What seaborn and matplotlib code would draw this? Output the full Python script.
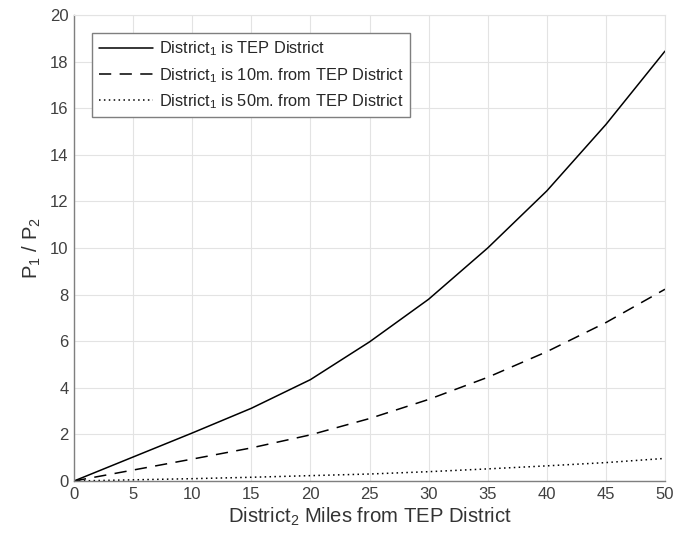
import numpy as np
import pandas as pd
import matplotlib
matplotlib.use("Agg")
import matplotlib.pyplot as plt
import seaborn as sns

# Data
miles = [0, 5, 10, 15, 20, 25, 30, 35, 40, 45, 50]
tep_district = [0, 1.03, 2.06, 3.12, 4.35, 5.97, 7.8, 10.0, 12.45, 15.3, 18.45]
ten_miles = [0, 0.47, 0.94, 1.42, 1.98, 2.68, 3.5, 4.45, 5.55, 6.8, 8.23]
fifty_miles = [0, 0.05, 0.1, 0.16, 0.23, 0.3, 0.4, 0.52, 0.65, 0.79, 0.97]

labels = ["District$_1$ is TEP District",
          "District$_1$ is 10m. from TEP District",
          "District$_1$ is 50m. from TEP District"]
styles = ["-", (0, (8, 5.5)), (0, (1, 2.2))]

sns.set_style("white")
plt.rcParams['font.family'] = ['Liberation Sans', 'DejaVu Sans']
plt.rcParams['mathtext.default'] = 'regular'

fig = plt.figure(figsize=(6.75, 5.42), dpi=100)
ax = fig.add_axes([74/675, 61/542, 591/675, 466/542])

series = [tep_district, ten_miles, fifty_miles]
for vals, lab, ls in zip(series, labels, styles):
    df = pd.DataFrame({"x": miles, "y": vals})
    sns.lineplot(data=df, x="x", y="y", ax=ax, color="black", linewidth=1.1,
                 linestyle=ls, label=lab)

ax.set_xlim(0, 50)
ax.set_ylim(0, 20)
ax.set_xticks(np.arange(0, 51, 5))
ax.set_yticks(np.arange(0, 21, 2))
ax.grid(True, color="#e3e3e3", linewidth=0.8)
ax.set_axisbelow(True)

for side in ["top", "right"]:
    ax.spines[side].set_color("#e3e3e3")
    ax.spines[side].set_linewidth(0.8)
for side in ["left", "bottom"]:
    ax.spines[side].set_color("#7f7f7f")
    ax.spines[side].set_linewidth(1.0)

ax.tick_params(axis="both", direction="in", length=4, width=0.8, color="#7f7f7f",
               labelsize=12, labelcolor="#404040", pad=4)

ax.set_xlabel("District$_2$ Miles from TEP District", fontsize=14.6, color="#333333", labelpad=3)
ax.set_ylabel("P$_1$ / P$_2$", fontsize=14.6, color="#333333", labelpad=5)

leg = ax.legend(loc="upper left", bbox_to_anchor=(0.0305, 0.961), fontsize=11.8,
                frameon=True, fancybox=False, framealpha=1, edgecolor="#7f7f7f",
                handlelength=3.35, handletextpad=0.35, borderpad=0.4, labelspacing=0.45,
                borderaxespad=0)
leg.get_frame().set_linewidth(1.0)

fig.savefig("out.png", dpi=100)
